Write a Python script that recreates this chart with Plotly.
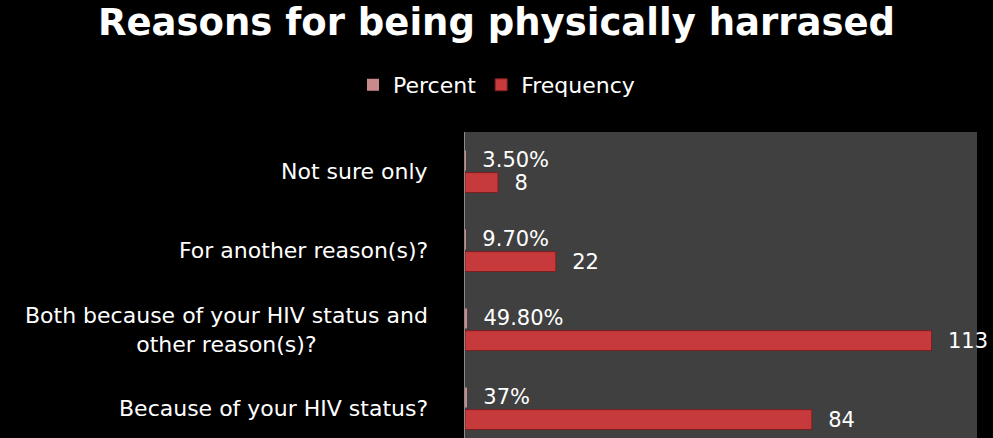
import plotly.graph_objects as go

# Survey results: reasons for being physically harassed (bottom to top)
reasons = [
    "Because of your HIV status?",
    "Both because of your HIV status and<br>other reason(s)?",
    "For another reason(s)?",
    "Not sure only",
]
frequency = [84, 113, 22, 8]
percent = [0.37, 0.498, 0.097, 0.035]
percent_labels = ["37%", "49.80%", "9.70%", "3.50%"]

PAD = "\u00a0\u00a0"
FONT = "DejaVu Sans"

fig = go.Figure()

fig.add_trace(go.Bar(
    name="Frequency",
    y=reasons,
    x=frequency,
    orientation="h",
    marker=dict(color="#c63a3c", line=dict(color="#7d1e20", width=1)),
    text=[str(v) for v in frequency],
    texttemplate=PAD + "%{text}",
    textposition="outside",
    constraintext="none",
    cliponaxis=False,
    textfont=dict(color="white", size=21, family=FONT),
    legendrank=2,
))

fig.add_trace(go.Bar(
    name="Percent",
    y=reasons,
    x=percent,
    orientation="h",
    marker=dict(color="#c98a8c", line=dict(width=0)),
    text=percent_labels,
    texttemplate=PAD + "%{text}",
    textposition="outside",
    constraintext="none",
    cliponaxis=False,
    textfont=dict(color="white", size=21, family=FONT),
    legendrank=1,
))

# Category labels, centred on each line and right-aligned left of the plot
for r in reasons:
    fig.add_annotation(
        x=-0.068, xref="paper", y=r, yref="y",
        text=r, showarrow=False, xanchor="right", yanchor="middle",
        align="center",
        font=dict(color="white", size=22, family=FONT),
    )

fig.update_layout(
    width=993,
    height=438,
    paper_bgcolor="black",
    plot_bgcolor="#404040",
    margin=dict(l=465, r=16, t=132, b=0, autoexpand=False),
    barmode="group",
    bargap=0.44,
    bargroupgap=0.1,
    title=dict(
        text="<b>Reasons for being physically harrased</b>",
        x=0.5, xanchor="center", y=0.95, yanchor="middle",
        font=dict(color="white", size=37, family=FONT),
    ),
    legend=dict(
        orientation="h",
        x=0.5, xref="container", xanchor="center",
        y=0.806, yref="container", yanchor="middle",
        font=dict(color="white", size=22, family=FONT),
        bgcolor="rgba(0,0,0,0)",
    ),
    xaxis=dict(
        range=[0, 124],
        showgrid=False, zeroline=False, showticklabels=False, ticks="",
    ),
    yaxis=dict(
        categoryorder="array", categoryarray=reasons,
        range=[-0.373, 3.5],
        showgrid=False, zeroline=False, showticklabels=False, ticks="",
        showline=True, linecolor="#8a8a8a", linewidth=1,
    ),
)

fig.write_html("out.html")
